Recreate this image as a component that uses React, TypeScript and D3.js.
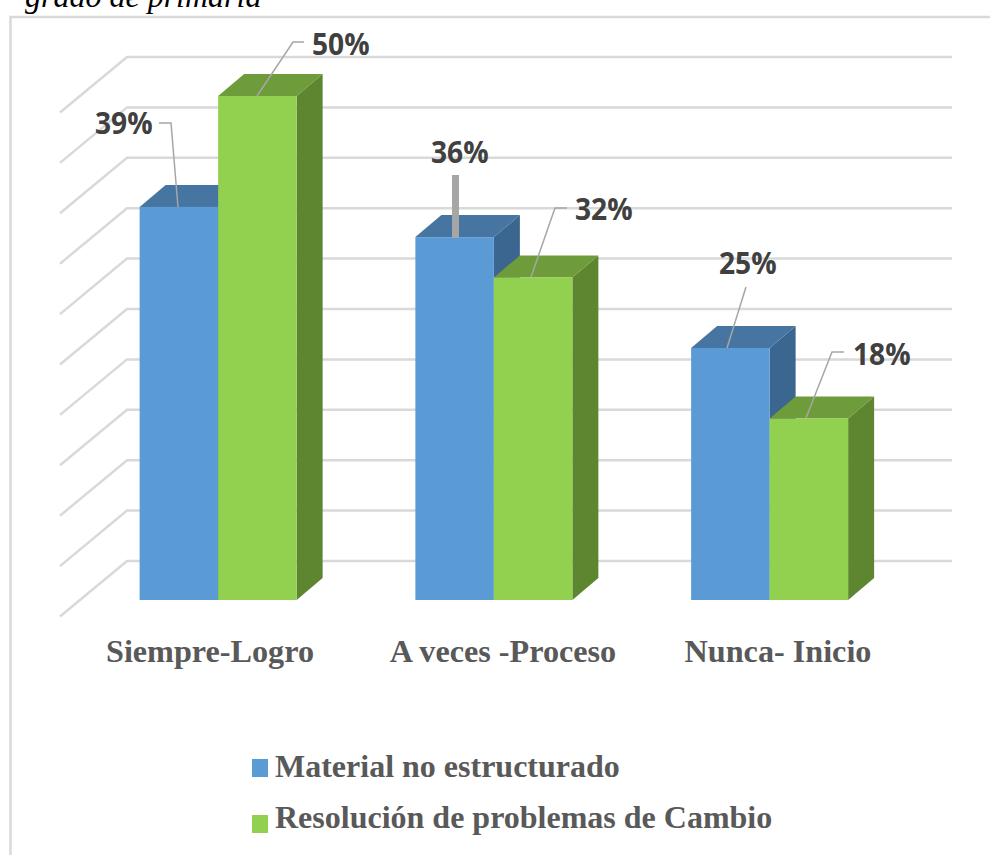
import React from "react";
import * as d3 from "d3";

const categories = ["Siempre-Logro", "A veces -Proceso", "Nunca- Inicio"];
const seriesNames = ["Material no estructurado", "Resolución de problemas de Cambio"];
const material = [39, 36, 25];
const resolucion = [50, 32, 18];
const gridTicks = [0, 5, 10, 15, 20, 25, 30, 35, 40, 45, 50];

// Leader line elbows and label anchors for each data label, [series][category]
const leaderPaths = [
  [[[178, 207], [171, 123], [159, 123]], [[455.5, 238], [455.5, 175]], [[727, 348], [746, 287]]],
  [[[257, 96], [293, 42], [304, 42]], [[531, 277], [555, 208], [567, 208]], [[806, 418], [832, 352], [844, 352]]],
];
const labelAnchors = [
  [[95, 134], [431, 163], [719, 274]],
  [[312, 55], [575, 220], [853, 365]],
];
const leaderWidths = [[1.5, 7, 1.5], [1.5, 1.5, 1.5]];

const FRONT = ["#5b9bd5", "#92d050"];
const TOP = ["#4675a1", "#6f9c3b"];
const SIDE = ["#3a668f", "#5e852f"];
const GRID = "#d9d9d9";
const DEPTH_X = 26;
const DEPTH_Y = 22;
const BAR_W = 78.5;

export default function App() {
  const y = d3.scaleLinear().domain([0, 50]).range([600, 96]);
  const x0 = d3.scaleBand<string>().domain(categories).range([80.25, 907.5]);
  const series = [material, resolucion];
  const line = d3.line();

  const wallY = (v: number) => y(v) - 39;

  const bars = series.flatMap((vals, s) =>
    vals.map((v, c) => {
      const cx = x0(categories[c])! + x0.bandwidth() / 2;
      return { s, c, v, x: cx + (s - 1) * BAR_W, top: y(v) };
    })
  );

  return (
    <svg
      width={990}
      height={855}
      viewBox="0 0 990 855"
      style={{ position: "absolute", left: 0, top: 0, background: "#fff" }}
    >
      <text x={25} y={7} fontFamily="Liberation Serif" fontStyle="italic" fontSize={32} fill="#000">
        grado de primaria
      </text>

      {/* chart frame */}
      <path d="M990,17H10.5V855" fill="none" stroke="#d9d9d9" strokeWidth={2.5} />

      {/* back-wall gridlines with their floor-side returns */}
      {gridTicks.map((t) => (
        <path
          key={t}
          d={line([
            [60, wallY(t) + 55.5],
            [127, wallY(t)],
            [952, wallY(t)],
          ])!}
          fill="none"
          stroke={GRID}
          strokeWidth={2.5}
        />
      ))}

      {/* bars: side and top faces first, the first series behind the second, then the fronts */}
      {bars
        .slice()
        .sort((a, b) => a.s - b.s)
        .map((b) => (
          <g key={`${b.s}-${b.c}`}>
            <path
              d={`M${b.x + BAR_W},${y(0)}l${DEPTH_X},${-DEPTH_Y}V${b.top - DEPTH_Y}l${-DEPTH_X},${DEPTH_Y}Z`}
              fill={SIDE[b.s]}
            />
            <path
              d={`M${b.x},${b.top}l${DEPTH_X},${-DEPTH_Y}h${BAR_W}l${-DEPTH_X},${DEPTH_Y}Z`}
              fill={TOP[b.s]}
            />
          </g>
        ))}
      {bars.map((b) => (
        <rect key={`f${b.s}-${b.c}`} x={b.x} y={b.top} width={BAR_W} height={y(0) - b.top} fill={FRONT[b.s]} />
      ))}

      {/* data labels and leaders */}
      {series.map((vals, s) =>
        vals.map((v, c) => (
          <g key={`l${s}-${c}`}>
            <path
              d={line(leaderPaths[s][c] as [number, number][])!}
              fill="none"
              stroke="#a6a6a6"
              strokeWidth={leaderWidths[s][c]}
            />
            <text
              transform={`translate(${labelAnchors[s][c][0]},${labelAnchors[s][c][1]}) scale(0.94,1)`}
              fontFamily="Open Sans"
              fontWeight={700}
              fontSize={30}
              fill="#404040"
            >
              {v}%
            </text>
          </g>
        ))
      )}

      {/* category axis labels */}
      {categories.map((c, i) => (
        <text
          key={c}
          x={[210, 503, 778][i]}
          y={662}
          textAnchor="middle"
          fontFamily="Liberation Serif"
          fontWeight={700}
          fontSize={32.2}
          fill="#595959"
        >
          {c}
        </text>
      ))}

      {/* legend */}
      {seriesNames.map((n, i) => (
        <g key={n}>
          <rect x={252} y={[759, 815][i]} width={16} height={18} fill={FRONT[i]} />
          <text
            x={275}
            y={[777, 828][i]}
            fontFamily="Liberation Serif"
            fontWeight={700}
            fontSize={32}
            fill="#595959"
          >
            {n}
          </text>
        </g>
      ))}
    </svg>
  );
}
